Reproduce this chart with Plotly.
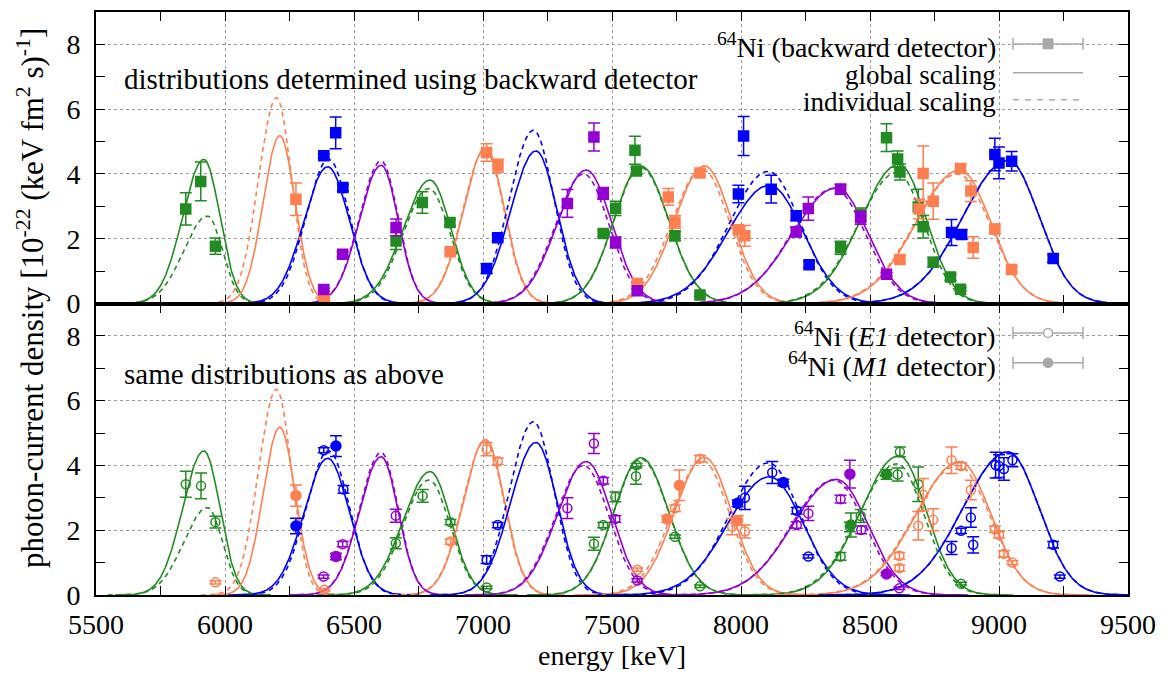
import numpy as np
import plotly.graph_objects as go
from plotly.subplots import make_subplots

# ---------------------------------------------------------------- data
# Photon-current density distributions (split Gaussians):
# (centre keV, amplitude, sigma below centre, sigma above centre)
dist_colors = ["green", "orange", "blue", "purple"]
global_scaling = [
    (5918, 4.45, 82, 62), (6212, 5.18, 64, 60), (6398, 4.22, 92, 84),
    (6605, 4.27, 84, 66), (6795, 3.81, 105, 80), (7010, 4.80, 86, 73),
    (7205, 4.71, 98, 82), (7400, 4.12, 112, 98), (7612, 4.24, 105, 108),
    (7858, 4.25, 115, 105), (8110, 3.65, 160, 130), (8370, 3.57, 170, 122),
    (8612, 4.30, 148, 105), (8848, 4.12, 170, 120), (9035, 4.42, 175, 120),
]
individual_scaling = [
    (5932, 2.70, 92, 58), (6200, 6.35, 70, 58), (6402, 4.45, 88, 80),
    (6605, 4.40, 84, 66), (6790, 3.55, 100, 82), (7008, 4.75, 86, 73),
    (7195, 5.35, 92, 80), (7390, 4.00, 110, 98), (7612, 4.20, 105, 108),
    (7850, 4.15, 118, 105), (8105, 4.08, 150, 125), (8360, 3.55, 165, 122),
    (8605, 4.05, 150, 105), (8840, 4.00, 170, 125), (9035, 4.42, 175, 120),
]

# Backward detector: (energy keV, density, uncertainty)
bwd_green = [(5848, 2.92, 0.5), (5906, 3.77, 0.6), (5963, 1.77, 0.25), (6663, 1.93, 0.26),
             (6765, 3.12, 0.33), (6872, 2.50, 0.1), (7466, 2.16, 0.1), (7514, 2.94, 0.22),
             (7589, 4.73, 0.43), (7595, 4.09, 0.1), (7744, 2.09, 0.15), (7841, 0.26, 0.05),
             (8386, 1.72, 0.2), (8464, 2.75, 0.2), (8564, 5.12, 0.43), (8607, 4.46, 0.25),
             (8616, 4.06, 0.25), (8687, 2.98, 0.55), (8706, 2.37, 0.35), (8745, 1.27, 0.15),
             (8812, 0.82, 0.1), (8851, 0.44, 0.05)]
bwd_orange = [(6275, 3.22, 0.5), (6385, 0.15, 0.04), (6873, 1.60, 0.08), (7014, 4.66, 0.27),
              (7058, 4.25, 0.2), (7598, 0.62, 0.05), (7718, 3.29, 0.26), (7744, 2.52, 0.2),
              (7841, 4.03, 0.1), (7990, 2.28, 0.1), (8015, 2.09, 0.32), (8616, 1.36, 0.12),
              (8690, 2.92, 0.3), (8706, 4.01, 0.85), (8745, 3.16, 0.56), (8851, 4.17, 0.12),
              (8891, 3.47, 0.32), (8900, 1.73, 0.33), (8984, 2.30, 0.15), (9049, 1.05, 0.08)]
bwd_blue = [(6383, 4.56, 0.05), (6429, 5.27, 0.49), (6457, 3.58, 0.1), (7014, 1.08, 0.15),
            (7057, 2.03, 0.1), (7990, 3.38, 0.27), (8010, 5.17, 0.6), (8117, 3.53, 0.43),
            (8214, 2.71, 0.15), (8264, 1.20, 0.1), (8816, 2.19, 0.4), (8855, 2.13, 0.15),
            (8984, 4.60, 0.5), (9000, 4.34, 0.49), (9049, 4.39, 0.3), (9210, 1.39, 0.12)]
bwd_purple = [(6383, 0.43, 0.05), (6456, 1.52, 0.08), (6663, 2.35, 0.26), (7327, 3.09, 0.43),
              (7430, 5.14, 0.43), (7466, 3.40, 0.18), (7514, 1.88, 0.17), (7598, 0.39, 0.05),
              (8214, 2.21, 0.15), (8261, 2.93, 0.36), (8386, 3.53, 0.15), (8464, 2.65, 0.2),
              (8564, 0.90, 0.05)]

# E1 detector
e1_green = [(5848, 3.42, 0.4), (5907, 3.37, 0.4), (5963, 2.25, 0.18), (6662, 1.60, 0.17),
            (6766, 3.06, 0.2), (6874, 2.25, 0.08), (7014, 0.23, 0.04), (7430, 1.58, 0.2),
            (7466, 2.16, 0.08), (7513, 3.03, 0.15), (7593, 3.67, 0.25), (7595, 4.01, 0.05),
            (7744, 1.80, 0.05), (7841, 0.27, 0.04), (8386, 1.19, 0.12), (8422, 2.10, 0.15),
            (8464, 2.44, 0.2), (8607, 3.72, 0.2), (8616, 4.42, 0.15), (8687, 3.42, 0.53),
            (8853, 0.35, 0.04)]
e1_orange = [(5963, 0.39, 0.05), (6385, 0.16, 0.04), (6874, 1.65, 0.08), (7014, 4.50, 0.2),
             (7057, 4.13, 0.1), (7598, 0.78, 0.05), (7744, 2.68, 0.1), (7841, 4.21, 0.1),
             (7966, 2.11, 0.25), (8015, 1.96, 0.2), (8614, 1.21, 0.1), (8614, 0.83, 0.1),
             (8687, 2.14, 0.44), (8706, 3.10, 0.5), (8745, 2.32, 0.34), (8816, 4.16, 0.41),
             (8853, 3.98, 0.1), (8891, 3.24, 0.3), (8984, 2.03, 0.1), (9000, 1.86, 0.1),
             (9019, 1.27, 0.1), (9052, 1.00, 0.06)]
e1_blue = [(6383, 4.47, 0.08), (6459, 3.26, 0.12), (7014, 1.09, 0.12), (7057, 2.16, 0.08),
           (8015, 3.00, 0.36), (8121, 3.78, 0.34), (8216, 2.60, 0.1), (8261, 1.19, 0.05),
           (8816, 1.45, 0.2), (8853, 1.98, 0.08), (8891, 2.39, 0.3), (8900, 1.55, 0.25),
           (8987, 4.01, 0.4), (9000, 3.98, 0.35), (9019, 3.89, 0.35), (9052, 4.16, 0.2),
           (9210, 1.55, 0.1), (9236, 0.57, 0.05)]
e1_purple = [(6382, 0.57, 0.05), (6456, 1.57, 0.08), (6662, 2.45, 0.2), (7327, 2.68, 0.32),
             (7430, 4.68, 0.31), (7466, 3.53, 0.1), (7513, 2.35, 0.1), (7598, 0.45, 0.05),
             (8216, 2.16, 0.1), (8261, 2.52, 0.22), (8386, 2.96, 0.12), (8466, 2.01, 0.12),
             (8614, 0.21, 0.04)]

# M1 detector
m1_green = [(8426, 2.16, 0.37), (8564, 3.72, 0.15)]
m1_orange = [(6275, 3.07, 0.33), (7714, 2.35, 0.1), (7761, 3.39, 0.47), (7987, 2.30, 0.15)]
m1_blue = [(6275, 2.13, 0.24), (6430, 4.60, 0.32), (7987, 2.83, 0.1), (8164, 3.47, 0.1)]
m1_purple = [(6430, 1.19, 0.1), (8422, 3.73, 0.43), (8564, 0.65, 0.05)]

x_ticks = [5500, 6000, 6500, 7000, 7500, 8000, 8500, 9000, 9500]
y_ticks = [0, 2, 4, 6, 8]

# ---------------------------------------------------------------- style
COL = {"green": "#228B22", "orange": "#FF7F50", "blue": "#0000FF", "purple": "#9400D3"}
GRAY = "#A8A8A8"
FONT = "Liberation Serif"
FS = 29
FS_TICK = 28
FS_KEY = 27

W, H = 1167, 673
ML, MR, MT, MB = 96, 39, 10, 78
PW, PH = W - ML - MR, H - MT - MB


def px(x):
    return (x - ML) / PW


def py(y):
    return (H - MB - y) / PH


def split_gauss(e, c, a, sl, sr):
    s = np.where(e < c, sl, sr)
    return a * np.exp(-0.5 * ((e - c) / s) ** 2)


fig = make_subplots(rows=2, cols=1, shared_xaxes=True, vertical_spacing=0)

for row in (1, 2):
    for params, dash in ((global_scaling, "solid"), (individual_scaling, "dash")):
        for i, (c, a, sl, sr) in enumerate(params):
            e = np.linspace(c - 4.2 * sl, c + 4.2 * sr, 400)
            fig.add_trace(go.Scatter(
                x=e, y=split_gauss(e, c, a, sl, sr), mode="lines",
                line=dict(color=COL[dist_colors[i % 4]], width=1.6,
                          dash="5px,4px" if dash == "dash" else "solid"),
                showlegend=False, hoverinfo="skip"), row=row, col=1)


def add_points(pts, color, symbol, size, row):
    fig.add_trace(go.Scatter(
        x=[p[0] for p in pts], y=[p[1] for p in pts], mode="markers",
        marker=dict(symbol=symbol, size=size, color=COL[color],
                    line=dict(color=COL[color], width=1.5)),
        error_y=dict(type="data", array=[p[2] for p in pts], color=COL[color],
                     thickness=1.5, width=6),
        showlegend=False), row=row, col=1)


for pts, c in ((bwd_green, "green"), (bwd_orange, "orange"),
               (bwd_blue, "blue"), (bwd_purple, "purple")):
    add_points(pts, c, "square", 10, 1)
for pts, c in ((e1_green, "green"), (e1_orange, "orange"),
               (e1_blue, "blue"), (e1_purple, "purple")):
    add_points(pts, c, "circle-open", 9, 2)
for pts, c in ((m1_green, "green"), (m1_orange, "orange"),
               (m1_blue, "blue"), (m1_purple, "purple")):
    add_points(pts, c, "circle", 10, 2)

axis_common = dict(
    showline=True, linecolor="black", linewidth=2, mirror="allticks",
    ticks="inside", ticklen=9, tickwidth=1.2, tickcolor="black",
    showgrid=True, gridcolor="#9a9a9a", griddash="dot", gridwidth=1,
    zeroline=False, tickfont=dict(family=FONT, size=FS_TICK, color="black"),
)
for row in (1, 2):
    fig.update_xaxes(range=[5500, 9500], tickvals=x_ticks,
                     ticktext=[str(v) for v in x_ticks],
                     minor=dict(dtick=250, tick0=5500, ticks="inside", ticklen=9,
                                tickcolor="black", showgrid=False),
                     showticklabels=(row == 2), ticklabelstandoff=3,
                     row=row, col=1, **axis_common)
    fig.update_yaxes(range=[0, 9], tickvals=y_ticks,
                     ticktext=[str(v) for v in y_ticks],
                     minor=dict(dtick=1, tick0=0, ticks="inside", ticklen=9,
                                tickcolor="black", showgrid=False),
                     ticklabelstandoff=8, row=row, col=1, **axis_common)

ann = []
shapes = []


def text(x, y, s, anchor="left", size=FS, angle=0):
    ann.append(dict(x=x, y=y, xref="paper", yref="paper", text=s, showarrow=False,
                    xanchor=anchor, yanchor="middle", textangle=angle,
                    font=dict(family=FONT, size=size, color="black")))


text(px(122), py(77), "distributions determined using backward detector")
text(px(122), py(373), "same distributions as above")
text(px(30), py(297), "photon-current density [10<sup>-22</sup> (keV fm<sup>2</sup> s)<sup>-1</sup>]",
     anchor="center", angle=-90, size=31)
text(0.5, py(656), "energy [keV]", anchor="center", size=28)

# legend keys
KX0, KX1, KXM = 1013, 1083, 1048
legend_rows = [
    (44, "<sup>64</sup>Ni (backward detector)", "errsquare"),
    (73, "global scaling", "solid"),
    (100, "individual scaling", "dash"),
    (334, "<sup>64</sup>Ni (<i>E1</i> detector)", "erropen"),
    (364, "<sup>64</sup>Ni (<i>M1</i> detector)", "errfilled"),
]
for y, label, kind in legend_rows:
    text(px(998), py(y), label, anchor="right", size=FS_KEY + (1 if "Ni" in label else 0))
    ky = y - 2
    line = dict(type="line", xref="paper", yref="paper", x0=px(KX0), x1=px(KX1),
                y0=py(ky), y1=py(ky), line=dict(color=GRAY, width=1.5))
    if kind == "dash":
        line["line"]["dash"] = "6px,6px"
    shapes.append(line)
    if kind.startswith("err"):
        for xx in (KX0, KX1):
            shapes.append(dict(type="line", xref="paper", yref="paper", x0=px(xx), x1=px(xx),
                               y0=py(ky - 6), y1=py(ky + 6), line=dict(color=GRAY, width=1.5)))
        if kind == "errsquare":
            shapes.append(dict(type="rect", xref="paper", yref="paper",
                               x0=px(KXM - 5), x1=px(KXM + 5), y0=py(ky - 5), y1=py(ky + 5),
                               fillcolor=GRAY, line=dict(color=GRAY, width=1)))
        else:
            shapes.append(dict(type="circle", xref="paper", yref="paper",
                               x0=px(KXM - 4.5), x1=px(KXM + 4.5), y0=py(ky - 4.5), y1=py(ky + 4.5),
                               fillcolor=GRAY if kind == "errfilled" else "white",
                               line=dict(color=GRAY, width=1.5)))

fig.update_layout(
    width=W, height=H, margin=dict(l=ML, r=MR, t=MT, b=MB),
    paper_bgcolor="white", plot_bgcolor="white",
    annotations=ann, shapes=shapes, showlegend=False,
    font=dict(family=FONT, size=FS, color="black"),
)

fig.write_html("out.html")
